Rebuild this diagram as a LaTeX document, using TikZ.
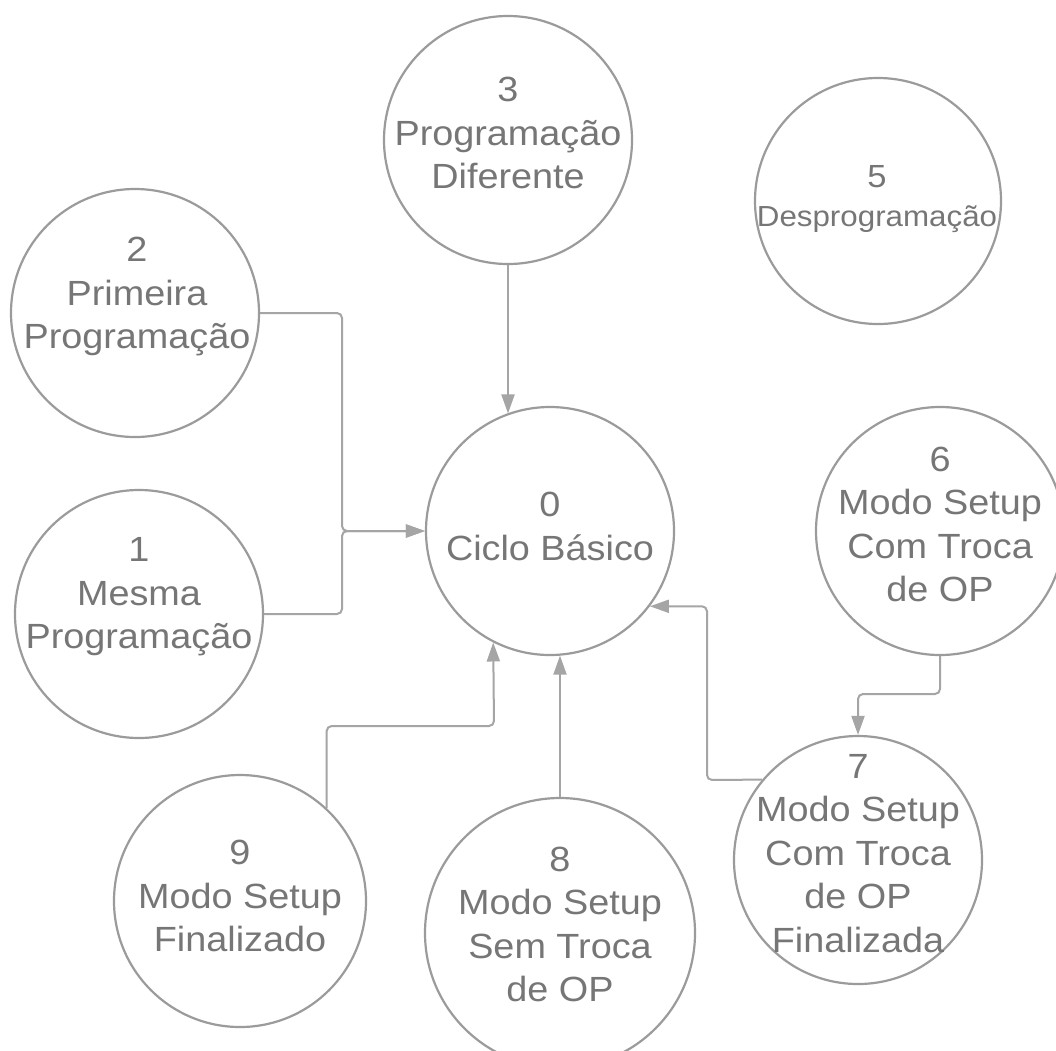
\documentclass[tikz,border=0pt]{standalone}
\usepackage{fontspec}
\setmainfont[FakeStretch=1.08]{Liberation Sans}
\usetikzlibrary{arrows.meta}
\definecolor{txtgray}{RGB}{118,118,118}
\definecolor{ringgray}{RGB}{155,155,155}
\definecolor{linkgray}{RGB}{165,165,165}
\begin{document}
\begin{tikzpicture}[x=1pt,y=-1pt,
  state/.style={circle,draw=ringgray,line width=2.2pt,inner sep=0pt,minimum size=#1},
  state/.default=248pt,
  lbl/.style={text=txtgray,align=center,inner sep=0pt,font=\fontsize{35}{43.5}\selectfont},
  smalllbl/.style={text=txtgray,align=center,inner sep=0pt,font=\fontsize{29}{38.7}\selectfont},
  link/.style={draw=linkgray,line width=2pt,rounded corners=5pt,-{Triangle[length=19pt,width=13pt]}}]
\useasboundingbox[fill=white] (0,0) rectangle (1056,1050);

% states
\node[state] (n0) at (550,531) {};
\node[state] (n1) at (139,614) {};
\node[state] (n2) at (135,313) {};
\node[state] (n3) at (508,140) {};
\node[state=246pt] (n5) at (878,201) {};
\node[state] (n6) at (940,531) {};
\node[state] (n7) at (858,860) {};
\node[state] (n8) at (560,933) [minimum size=270pt] {};
\node[state=252pt] (n9) at (240,901) {};

% state texts
\node[lbl] (t0) at (550,529.9) {\strut 0\\Ciclo Básico\strut};
\node[lbl] (t1) at (139,596.4) {\strut 1\\Mesma\\Programação\strut};
\node[lbl] (t2) at (137,296.4) {\strut 2\\Primeira\\Programação\strut};
\node[lbl] (t3) at (508,136.4) {\strut 3\\Programação\\Diferente\strut};
\node[smalllbl] (t5) at (877,199.6) {\strut{\fontsize{32}{38.7}\selectfont 5}\\Desprogramação\strut};
\node[lbl] (t6) at (940,527.9) {\strut 6\\Modo Setup\\Com Troca\\de OP\strut};
\node[lbl] (t7) at (858,856.4) {\strut 7\\Modo Setup\\Com Troca\\de OP\\Finalizada\strut};
\node[lbl] (t8) at (560,927.9) {\strut 8\\Modo Setup\\Sem Troca\\de OP\strut};
\node[lbl] (t9) at (240,899.4) {\strut 9\\Modo Setup\\Finalizado\strut};

% bend points
\coordinate (j) at (342,531);
\coordinate (k9) at (494,726);
\coordinate (k6) at (940,694);
\coordinate (k7) at (707,780);

% transitions
\draw[link] (n3.south) -- (n3.south |- n0.110);
\draw[link] (n2.east) -| (j) -- (n0.west);
\draw[link] (n1.east) -| (j) -- (n0.west);
\draw[link] (n9.47) |- (k9) -- (n0.243);
\draw[link] (n8.north) -- (n8.north |- n0.275);
\draw[link] (n7.140) -- (k7) |- (n0.323);
\draw[link] (n6.south) -- (k6) -| (n7.north);
\end{tikzpicture}
\end{document}
